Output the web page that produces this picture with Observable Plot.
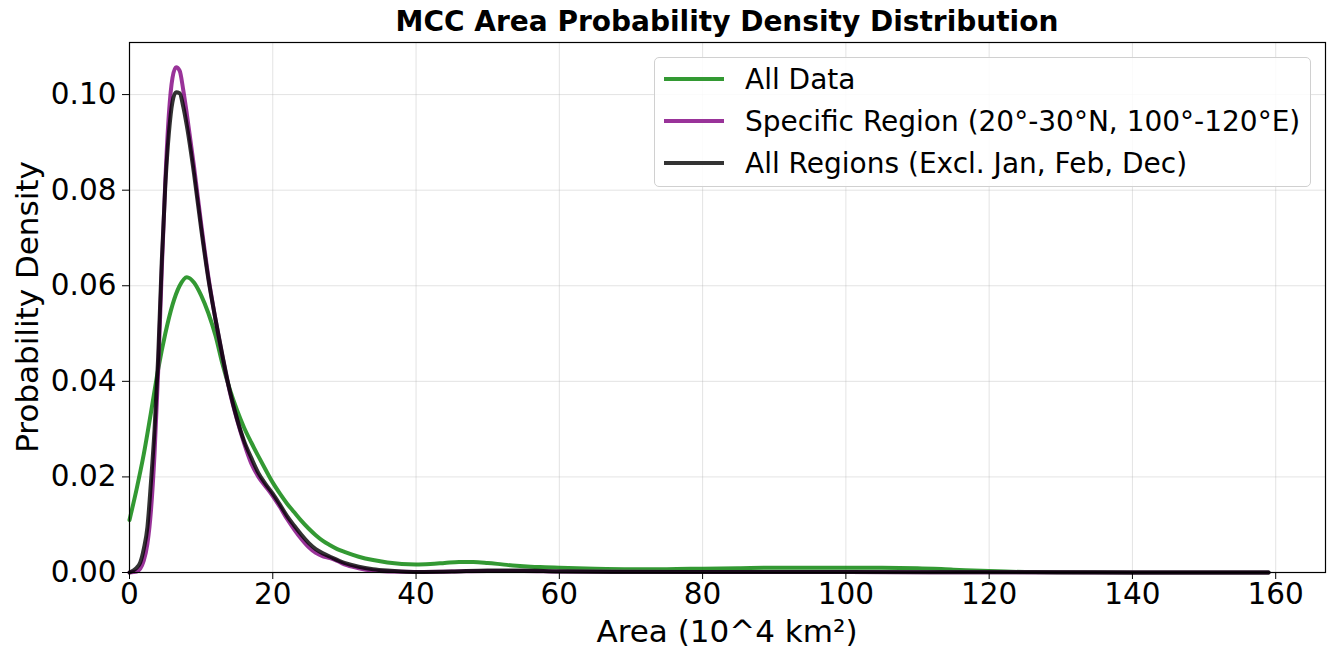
<!DOCTYPE html>
<html>
<head>
<meta charset="utf-8">
<script src="https://cdn.jsdelivr.net/npm/d3@7"></script>
<script src="https://cdn.jsdelivr.net/npm/@observablehq/plot@0.6"></script>
<style>
  html, body { margin: 0; padding: 0; background: white; }
  body { width: 1327px; height: 649px; position: relative; overflow: hidden; font-family: "DejaVu Sans", sans-serif; }
  #title { position: absolute; left: 129px; width: 1196px; top: 5px; text-align: center; font-weight: bold; font-size: 28px; line-height: 34px; }
  #chart { position: absolute; left: 0; top: 40px; }
  #xlabel { position: absolute; left: 129px; width: 1196px; top: 613px; text-align: center; font-size: 31px; line-height: 36px; }
  #ylabel { position: absolute; left: 27px; top: 307px; transform: translate(-50%, -50%) rotate(-90deg); white-space: nowrap; font-size: 31px; line-height: 36px; }
  #legend { position: absolute; left: 654px; top: 57px; width: 655px; height: 128px; border: 1px solid #d0d0d0; border-radius: 5px; background: rgba(255,255,255,0.85); }
  .row { position: absolute; left: 0; height: 40px; display: flex; align-items: center; }
  .swatch { width: 60px; height: 4px; margin-left: 9px; margin-right: 21px; }
  .row span { font-size: 28px; white-space: nowrap; }
</style>
</head>
<body>
<div id="title">MCC Area Probability Density Distribution</div>
<div id="chart"></div>
<div id="xlabel">Area (10^4 km²)</div>
<div id="ylabel">Probability Density</div>
<div id="legend"></div>
<script>
// Series names and colours
const seriesNames = ["All Data", "Specific Region (20°-30°N, 100°-120°E)", "All Regions (Excl. Jan, Feb, Dec)"];
const seriesColors = ["green", "purple", "black"];

// Tick values
const xTicks = [0, 20, 40, 60, 80, 100, 120, 140, 160];
const yTicks = [0, 0.02, 0.04, 0.06, 0.08, 0.10];

// All Data (green)
const xAll = [0, 1, 2, 3, 4, 5, 6, 7, 8, 9, 10, 11, 12, 13, 14, 15, 16, 17, 18, 19, 20, 21, 22, 23, 24, 25, 26, 27, 28, 29, 30, 32, 34, 36, 38, 40, 42, 44, 46, 48, 50, 52, 54, 56, 58, 60, 65, 70, 75, 80, 85, 90, 95, 100, 105, 110, 115, 120, 125, 130, 140, 150, 159];
const yAll = [0.0110, 0.0175, 0.0248, 0.0335, 0.0425, 0.0500, 0.0560, 0.0600, 0.0618, 0.0607, 0.0580, 0.0543, 0.0496, 0.0435, 0.0383, 0.0340, 0.0303, 0.0272, 0.0243, 0.0215, 0.0188, 0.0165, 0.0144, 0.0126, 0.0108, 0.0092, 0.0078, 0.0066, 0.0057, 0.0049, 0.0043, 0.0033, 0.0026, 0.0021, 0.0018, 0.0017, 0.0018, 0.0020, 0.0022, 0.0022, 0.0020, 0.0017, 0.0014, 0.0012, 0.0011, 0.0010, 0.0008, 0.0007, 0.0007, 0.0008, 0.0009, 0.0010, 0.0010, 0.0010, 0.0010, 0.0009, 0.0006, 0.0003, 0.0001, 0.00005, 0.00002, 0.00001, 0];

// Specific Region (purple)
const xRegion = [0, 1, 1.5, 2, 2.5, 3, 3.5, 4, 4.5, 5, 5.5, 6, 6.5, 7, 7.5, 8, 9, 10, 11, 12, 13, 14, 15, 16, 17, 18, 19, 20, 21, 22, 23, 24, 25, 26, 27, 28, 29, 30, 32, 34, 36, 40, 45, 50, 55, 60, 80, 100, 120, 140, 159];
const yRegion = [0, 0.0002, 0.0008, 0.0025, 0.0060, 0.0130, 0.0250, 0.0420, 0.0630, 0.0820, 0.0960, 0.1035, 0.1057, 0.1050, 0.1010, 0.0960, 0.0850, 0.0730, 0.0620, 0.0530, 0.0450, 0.0378, 0.0320, 0.0270, 0.0228, 0.0200, 0.0180, 0.0160, 0.0137, 0.0112, 0.0090, 0.0070, 0.0053, 0.0041, 0.0034, 0.0030, 0.0024, 0.0017, 0.0009, 0.0004, 0.0002, 0.0001, 0.0002, 0.0003, 0.0003, 0.0002, 0.0001, 0.0001, 0.00005, 0.00002, 0];

// All Regions excl. Jan, Feb, Dec (black)
const xExcl = [0, 0.5, 1, 1.5, 2, 2.5, 3, 3.5, 4, 4.5, 5, 5.5, 6, 6.5, 7, 7.5, 8, 9, 10, 11, 12, 13, 14, 15, 16, 17, 18, 19, 20, 21, 22, 23, 24, 25, 26, 27, 28, 30, 32, 34, 36, 38, 40, 45, 50, 55, 60, 70, 80, 100, 120, 140, 159];
const yExcl = [0, 0.0004, 0.0010, 0.0021, 0.0050, 0.0095, 0.0190, 0.0300, 0.0450, 0.0650, 0.0810, 0.0920, 0.0985, 0.1005, 0.1003, 0.0975, 0.0935, 0.0835, 0.0720, 0.0615, 0.0530, 0.0452, 0.0380, 0.0322, 0.0275, 0.0240, 0.0208, 0.0185, 0.0165, 0.0142, 0.0118, 0.0098, 0.0079, 0.0062, 0.0049, 0.0040, 0.0033, 0.0020, 0.0012, 0.0007, 0.0004, 0.0002, 0.0001, 0.0002, 0.0004, 0.0004, 0.0002, 0.0001, 0.0001, 0.0001, 0.00005, 0.00002, 0];

const toRows = (xs, ys) => xs.map((x, i) => ({x, y: ys[i]}));
const series = [toRows(xAll, yAll), toRows(xRegion, yRegion), toRows(xExcl, yExcl)];

const plot = Plot.plot({
  width: 1327,
  height: 609,
  marginTop: 2,
  marginBottom: 77,
  marginLeft: 129,
  marginRight: 2,
  x: {domain: [0, 166.95]},
  y: {domain: [0, 0.1109]},
  style: {fontFamily: "DejaVu Sans", fontSize: "29px", color: "black", background: "white", overflow: "visible"},
  marks: [
    Plot.gridX(xTicks, {stroke: "#b0b0b0", strokeOpacity: 0.35, strokeWidth: 1}),
    Plot.gridY(yTicks, {stroke: "#b0b0b0", strokeOpacity: 0.35, strokeWidth: 1}),
    ...series.map((d, i) => Plot.line(d, {x: "x", y: "y", stroke: seriesColors[i], strokeOpacity: 0.8, strokeWidth: 4, curve: "monotone-x"})),
    Plot.frame({stroke: "black", strokeWidth: 1.2}),
    Plot.axisX(xTicks, {tickSize: 7, tickPadding: 4, fontSize: 29.5, label: null, tickFormat: d => String(d)}),
    Plot.axisY(yTicks, {tickSize: 7, tickPadding: 6, fontSize: 29.5, label: null, tickFormat: d => d.toFixed(2)})
  ]
});
document.getElementById("chart").appendChild(plot);

const legend = document.getElementById("legend");
const swatchColors = ["#339933", "#993399", "#333333"];
seriesNames.forEach((name, i) => {
  const row = document.createElement("div");
  row.className = "row";
  row.style.top = (1 + i * 42) + "px";
  const sw = document.createElement("div");
  sw.className = "swatch";
  sw.style.background = swatchColors[i];
  const label = document.createElement("span");
  label.textContent = name;
  row.appendChild(sw);
  row.appendChild(label);
  legend.appendChild(row);
});
</script>
</body>
</html>
